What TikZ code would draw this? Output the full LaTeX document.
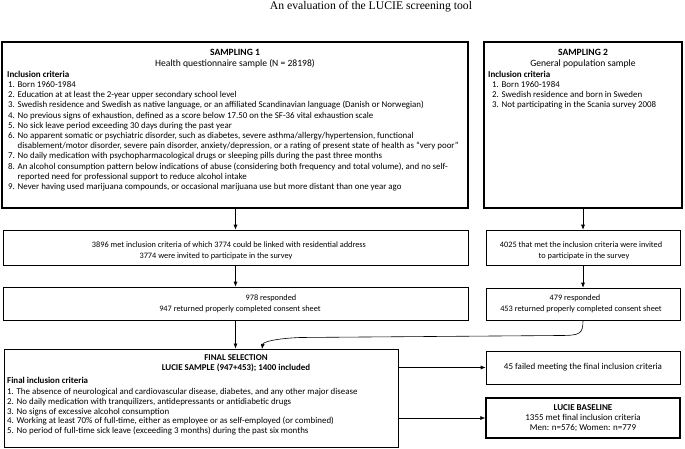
\documentclass[tikz,border=0pt]{standalone}
\usepackage{fontspec}
\setmainfont{Carlito}
\newfontfamily\titlefont{Liberation Serif}
\usetikzlibrary{arrows.meta}
\begin{document}
\begin{tikzpicture}[x=1pt,y=-1pt,
  box/.style={draw, line width=0.6pt, inner sep=0pt},
  thickbox/.style={draw, line width=1.3pt, inner sep=0pt},
  txt/.style={inner sep=0pt, anchor=mid, font=\fontsize{9}{10.2}\selectfont},
  htxt/.style={inner sep=0pt, anchor=mid, font=\fontsize{9.6}{10.2}\selectfont},
  btxt/.style={txt, font=\fontsize{9.6}{10.2}\selectfont\bfseries},
  ctxt/.style={txt, font=\fontsize{9}{10.2}\selectfont\bfseries},
  list/.style={inner sep=0pt, anchor=north west, align=left, font=\fontsize{8.9}{10.2}\selectfont},
  stxt/.style={inner sep=0pt, anchor=mid, font=\fontsize{8.3}{10}\selectfont},
  sbtxt/.style={stxt, font=\fontsize{8.9}{10}\selectfont\bfseries},
  slist/.style={inner sep=0pt, anchor=north west, align=left, font=\fontsize{8.9}{9.7}\selectfont},
  arr/.style={-{Latex[length=5pt,width=4pt]}, line width=0.6pt}
]
\useasboundingbox (0,0) rectangle (685,449);

% title
\node[inner sep=0pt, font=\titlefont\fontsize{11.7}{13}\selectfont] (title) at (371,7) {An evaluation of the LUCIE screening tool};

% Sampling 1
\node[thickbox, minimum width=466pt, minimum height=166pt] (s1) at (235,125) {};
\node[btxt] (s1h) at (235,53) {SAMPLING 1};
\node[htxt] (s1s) at (235,64) {Health questionnaire sample (N = 28198)};
\node[ctxt, anchor=mid west] (s1c) at (7,75) {Inclusion criteria};
\node[list] (s1l) at (8,81.3) {1. Born 1960-1984\\
2. Education at at least the 2-year upper secondary school level\\
3. Swedish residence and Swedish as native language, or an affiliated Scandinavian language (Danish or Norwegian)\\
4. No previous signs of exhaustion, defined as a score below 17.50 on the SF-36 vital exhaustion scale\\
5. No sick leave period exceeding 30 days during the past year\\
6. No apparent somatic or psychiatric disorder, such as diabetes, severe asthma/allergy/hypertension, functional\\
\phantom{6. }disablement/motor disorder, severe pain disorder, anxiety/depression, or a rating of present state of health as “very poor”\\
7. No daily medication with psychopharmacological drugs or sleeping pills during the past three months\\
8. An alcohol consumption pattern below indications of abuse (considering both frequency and total volume), and no self-\\
\phantom{8. }reported need for professional support to reduce alcohol intake\\
9. Never having used marijuana compounds, or occasional marijuana use but more distant than one year ago};

% Sampling 2
\node[thickbox, minimum width=198pt, minimum height=166pt] (s2) at (583,125) {};
\node[btxt] (s2h) at (583,53) {SAMPLING 2};
\node[htxt] (s2s) at (583,64) {General population sample};
\node[ctxt, anchor=mid west] (s2c) at (488,75) {Inclusion criteria};
\node[list] (s2l) at (492,81.3) {1. Born 1960-1984\\
2. Swedish residence and born in Sweden\\
3. Not participating in the Scania survey 2008};

% second row
\node[box, minimum width=465pt, minimum height=35pt] (b2) at (235.5,247.5) {};
\node[stxt] (b2a) at (229,245) {3896 met inclusion criteria of which 3774 could be linked with residential address};
\node[stxt] (b2b) at (216,256) {3774 were invited to participate in the survey};
\node[box, minimum width=194pt, minimum height=35pt] (b2r) at (583,247.5) {};
\node[stxt] (b2ra) at (581,245) {4025 that met the inclusion criteria were invited};
\node[stxt] (b2rb) at (584,256) {to participate in the survey};

% third row
\node[box, minimum width=465pt, minimum height=33pt] (b3) at (235.5,303.5) {};
\node[stxt] (b3a) at (271,298) {978 responded};
\node[stxt] (b3b) at (240,309) {947 returned properly completed consent sheet};
\node[box, minimum width=194pt, minimum height=32pt] (b3r) at (583,304) {};
\node[stxt] (b3ra) at (575,298) {479 responded};
\node[stxt] (b3rb) at (581,309) {453 returned properly completed consent sheet};

% final selection
\node[draw, line width=1pt, inner sep=0pt, minimum width=394pt, minimum height=98pt] (fin) at (201,398) {};
\node[sbtxt] (finh) at (236,358) {FINAL SELECTION};
\node[sbtxt] (fins) at (236,368) {LUCIE SAMPLE (947+453); 1400 included};
\node[sbtxt, anchor=mid west] (finc) at (7,381) {Final inclusion criteria};
\node[slist] (finl) at (7,388.3) {1. The absence of neurological and cardiovascular disease, diabetes, and any other major disease\\
2. No daily medication with tranquilizers, antidepressants or antidiabetic drugs\\
3. No signs of excessive alcohol consumption\\
4. Working at least 70\% of full-time, either as employee or as self-employed (or combined)\\
5. No period of full-time sick leave (exceeding 3 months) during the past six months};

% right bottom boxes
\node[box, minimum width=194pt, minimum height=33pt] (fail) at (583,367.5) {};
\node[txt] (failt) at (583,367.5) {45 failed meeting the final inclusion criteria};
\node[thickbox, minimum width=194pt, minimum height=40pt] (base) at (583,418) {};
\node[ctxt] (baseh) at (583,408) {LUCIE BASELINE};
\node[txt] (basea) at (583,418) {1355 met final inclusion criteria};
\node[txt] (baseb) at (583,428) {Men: n=576; Women: n=779};

% connectors
\draw[arr] (s1.south -| b2.north) -- (b2.north);
\draw[arr] (b2.south) -- (b3.north);
\draw[arr] (b3.south) -- (b3.south |- fin.north);
\draw[arr] (s2.south) -- (b2r.north);
\draw[arr] (b2r.south) -- (b3r.north);
\coordinate (cmid) at (300,337.5);
\draw[arr] (b3r.south) .. controls (583,334) and (580,335.5) .. (560,335.5) -- (cmid) .. controls (275,338.5) and (263,342) .. (262,349);
\draw[arr] (fail.west -| fin.east) -- (fail.west);
\draw[arr] (base.west -| fin.east) -- (base.west);
\end{tikzpicture}
\end{document}
